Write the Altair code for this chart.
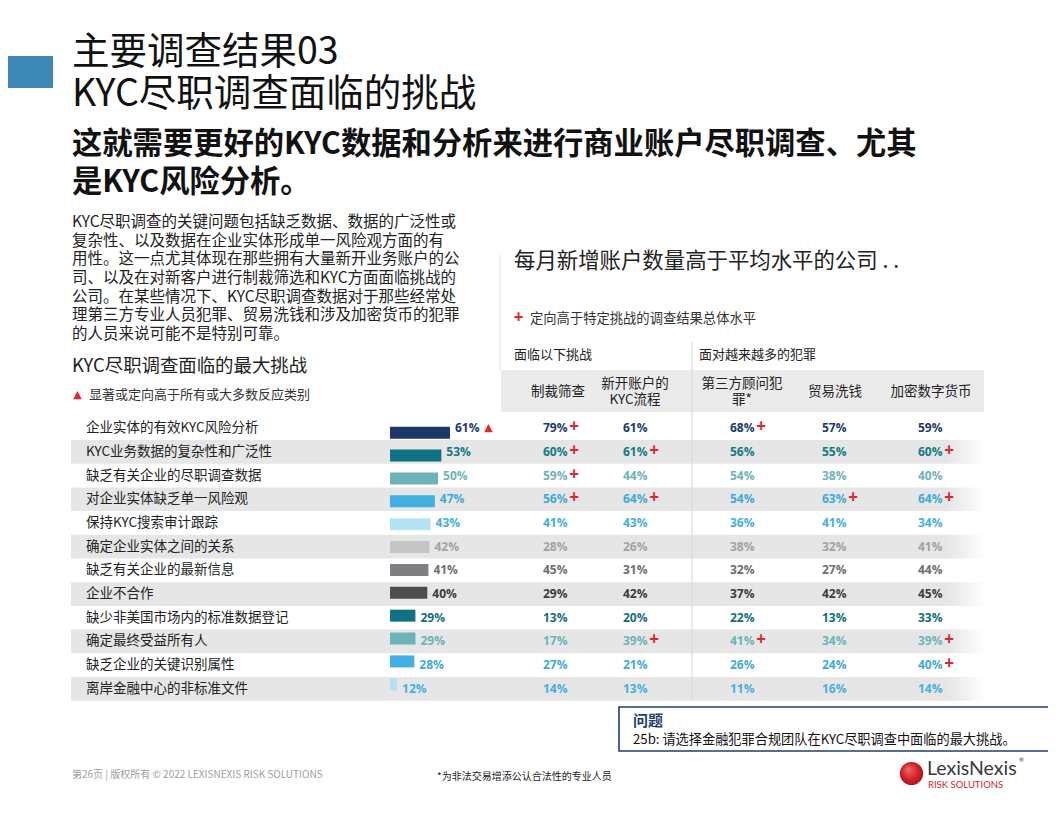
import altair as alt
import pandas as pd

CJK = "Noto Sans CJK SC"
NUM = "Open Sans"

# ---------------- data ----------------
challenges = [
    "企业实体的有效KYC风险分析",
    "KYC业务数据的复杂性和广泛性",
    "缺乏有关企业的尽职调查数据",
    "对企业实体缺乏单一风险观",
    "保持KYC搜索审计跟踪",
    "确定企业实体之间的关系",
    "缺乏有关企业的最新信息",
    "企业不合作",
    "缺少非美国市场内的标准数据登记",
    "确定最终受益所有人",
    "缺乏企业的关键识别属性",
    "离岸金融中心的非标准文件",
]
overall = [61, 53, 50, 47, 43, 42, 41, 40, 29, 29, 28, 12]
overall_flag = [1, 0, 0, 0, 0, 0, 0, 0, 0, 0, 0, 0]

col_headers = ["制裁筛查", "新开账户的\nKYC流程", "第三方顾问犯\n罪*", "贸易洗钱", "加密数字货币"]
sanctions = [79, 60, 59, 56, 41, 28, 45, 29, 13, 17, 27, 14]
new_acct = [61, 61, 44, 64, 43, 26, 31, 42, 20, 39, 21, 13]
third_party = [68, 56, 54, 54, 36, 38, 32, 37, 22, 41, 26, 11]
trade = [57, 55, 38, 63, 41, 32, 27, 42, 13, 34, 24, 16]
crypto = [59, 60, 40, 64, 34, 41, 44, 45, 33, 39, 40, 14]
sanctions_plus = [1, 1, 1, 1, 0, 0, 0, 0, 0, 0, 0, 0]
new_acct_plus = [0, 1, 0, 1, 0, 0, 0, 0, 0, 1, 0, 0]
third_party_plus = [1, 0, 0, 0, 0, 0, 0, 0, 0, 1, 0, 0]
trade_plus = [0, 0, 0, 1, 0, 0, 0, 0, 0, 0, 0, 0]
crypto_plus = [0, 1, 0, 1, 0, 0, 0, 0, 0, 1, 1, 0]

# ---------------- styles / layout ----------------
BAR_COLORS = ["#1b3668", "#0e7283", "#6cb3b9", "#40b0e3", "#b5e1f5", "#c5c5c5",
              "#7d7f84", "#4d4d4f", "#0e7283", "#6cb3b9", "#40b0e3", "#b5e1f5"]
TXT_COLORS = ["#1b3a6e", "#137a8a", "#6db3b8", "#3fa9dc", "#45b0e0", "#a3a3a3",
              "#6e6e6e", "#3d3d3d", "#0f6f80", "#6db3b8", "#3fa9dc", "#45b0e0"]
RED = "#e3262b"
NAVY = "#1f3f6e"
BAND = "#e6e6e6"

COL_X = [543, 623, 730, 822, 918]          # left edge of value text per column
HEAD_X = [558, 635, 742, 835, 931]         # header centres
HEAD_Y = [392, 384, 384, 392, 392]         # header first-line centres

PX = alt.Scale(domain=[8, 1048], range=[0, 1040], nice=False, zero=False)
PY = alt.Scale(domain=[8, 808], range=[0, 800], nice=False, zero=False)
RY = alt.Scale(domain=[-0.5, 11.5], range=[408.3, 692.7], nice=False, zero=False)
BX = alt.Scale(domain=[0, 100], range=[376.1, 484.1], nice=False, zero=False)

rows = list(range(len(challenges)))
row_color = alt.Color("row:O", scale=alt.Scale(domain=rows, range=TXT_COLORS), legend=None)
bar_color = alt.Color("row:O", scale=alt.Scale(domain=rows, range=BAR_COLORS), legend=None)


def txt(items, size, color, weight="normal", align="left", font=CJK, **kw):
    df = pd.DataFrame(items, columns=["x", "y", "t"])
    return alt.Chart(df).mark_text(
        align=align, baseline="middle", fontSize=size, color=color,
        fontWeight=weight, font=font, **kw
    ).encode(
        x=alt.X("x:Q", scale=PX, axis=None),
        y=alt.Y("y:Q", scale=PY, axis=None),
        text="t:N",
    )


def box(x1, y1, x2, y2, **mark):
    df = pd.DataFrame({"x": [x1], "x2": [x2], "y": [y1], "y2": [y2]})
    return alt.Chart(df).mark_rect(**mark).encode(
        x=alt.X("x:Q", scale=PX, axis=None), x2="x2:Q",
        y=alt.Y("y:Q", scale=PY, axis=None), y2="y2:Q",
    )


layers = []

# --- header block ---
layers.append(box(0, 56, 53, 88, color="#3d87b7"))
layers.append(txt([(72, 53, "主要调查结果03"), (72, 95, "KYC尽职调查面临的挑战")], 37.5, "#111111"))
layers.append(txt([(72, 145, "这就需要更好的KYC数据和分析来进行商业账户尽职调查、尤其"),
                   (72, 183, "是KYC风险分析。")], 30.3, "#111111", weight="bold"))

# --- paragraph ---
para = [
    "KYC尽职调查的关键问题包括缺乏数据、数据的广泛性或",
    "复杂性、以及数据在企业实体形成单一风险观方面的有",
    "用性。这一点尤其体现在那些拥有大量新开业务账户的公",
    "司、以及在对新客户进行制裁筛选和KYC方面面临挑战的",
    "公司。在某些情况下、KYC尽职调查数据对于那些经常处",
    "理第三方专业人员犯罪、贸易洗钱和涉及加密货币的犯罪",
    "的人员来说可能不是特别可靠。",
]
para_y = [222, 240.5, 259, 278, 296.5, 315, 334]
layers.append(txt([(72, y, t) for y, t in zip(para_y, para)], 15.5, "#222222"))
layers.append(txt([(72, 366, "KYC尽职调查面临的最大挑战")], 18.4, "#222222"))
layers.append(txt([(77.5, 395, "▲")], 11, RED, align="center", font="DejaVu Sans"))
layers.append(txt([(89, 395, "显著或定向高于所有或大多数反应类别")], 13, "#333333"))

# --- right heading ---
layers.append(box(499.5, 255, 500.5, 370, color="#e2e2e2"))
layers.append(txt([(514, 262, "每月新增账户数量高于平均水平的公司 . .")], 21.4, "#222222"))
layers.append(txt([(518.5, 318, "+")], 17, RED, weight="bold", align="center", font=NUM))
layers.append(txt([(530, 319, "定向高于特定挑战的调查结果总体水平")], 13.3, "#333333"))
layers.append(txt([(514, 355, "面临以下挑战"), (699, 355, "面对越来越多的犯罪")], 13, "#222222"))

# --- table background bands ---
layers.append(box(501, 370, 984, 412, color="#ebebeb"))
band_df = pd.DataFrame({"row": rows}).query("row % 2 == 1")
band_base = alt.Chart(band_df).transform_calculate(lo="datum.row - 0.5", hi="datum.row + 0.5")
layers.append(band_base.mark_rect(color=BAND).encode(
    x=alt.X("x:Q", scale=PX, axis=None), x2=alt.X2("x2:Q"),
    y=alt.Y("lo:Q", scale=RY, axis=None), y2="hi:Q",
).transform_calculate(x="71", x2="948"))
layers.append(band_base.mark_rect(
    color=alt.LinearGradient(gradient="linear", x1=0, x2=1, y1=0, y2=0,
                             stops=[alt.GradientStop(color=BAND, offset=0),
                                    alt.GradientStop(color="#ffffff", offset=1)])
).encode(
    x=alt.X("x:Q", scale=PX, axis=None), x2=alt.X2("x2:Q"),
    y=alt.Y("lo:Q", scale=RY, axis=None), y2="hi:Q",
).transform_calculate(x="948", x2="986"))

# separator
layers.append(box(691.5, 342, 692.5, 700.7, color="#d6d6d6"))

# --- column headers ---
head_df = pd.DataFrame({"x": HEAD_X, "y": HEAD_Y, "t": col_headers})
layers.append(alt.Chart(head_df).mark_text(
    align="center", baseline="middle", fontSize=13.5, color="#222222", font=CJK,
    lineBreak="\n", lineHeight=16,
).encode(
    x=alt.X("x:Q", scale=PX, axis=None),
    y=alt.Y("y:Q", scale=PY, axis=None),
    text="t:N",
))

# --- left bar chart ---
left_df = pd.DataFrame({"row": rows, "label": challenges, "value": overall, "flag": overall_flag})
left_df["vtext"] = left_df["value"].astype(str) + "%"
left_base = alt.Chart(left_df)
layers.append(left_base.mark_text(align="left", baseline="middle", fontSize=13.5,
                                  color="#222222", font=CJK).encode(
    x=alt.value(86 - 8),
    y=alt.Y("row:Q", scale=RY, axis=None),
    text="label:N",
))
layers.append(left_base.mark_bar(height=12).encode(
    x=alt.X("value:Q", scale=BX, axis=None),
    x2=alt.datum(5.5),
    y=alt.Y("row:Q", scale=RY, axis=None),
    color=bar_color,
))
layers.append(left_base.mark_text(align="left", baseline="middle", dx=5, fontSize=12,
                                  fontWeight="bold", font=NUM).encode(
    x=alt.X("value:Q", scale=BX, axis=None),
    y=alt.Y("row:Q", scale=RY, axis=None),
    text="vtext:N",
    color=row_color,
))
layers.append(left_base.transform_filter("datum.flag == 1").mark_text(
    align="center", baseline="middle", dx=38.5, fontSize=11, color=RED, font="DejaVu Sans"
).encode(
    x=alt.X("value:Q", scale=BX, axis=None),
    y=alt.Y("row:Q", scale=RY, axis=None),
    text=alt.value("▲"),
))

# --- right table values ---
series = [sanctions, new_acct, third_party, trade, crypto]
pluses = [sanctions_plus, new_acct_plus, third_party_plus, trade_plus, crypto_plus]
recs = []
for j, (vals, pl) in enumerate(zip(series, pluses)):
    for i, (v, p) in enumerate(zip(vals, pl)):
        recs.append({"row": i, "col": j, "x": COL_X[j], "vtext": f"{v}%", "plus": p})
tab_df = pd.DataFrame(recs)
tab_base = alt.Chart(tab_df)
layers.append(tab_base.mark_text(align="left", baseline="middle", fontSize=12,
                                 fontWeight="bold", font=NUM).encode(
    x=alt.X("x:Q", scale=PX, axis=None),
    y=alt.Y("row:Q", scale=RY, axis=None),
    text="vtext:N",
    color=row_color,
))
layers.append(tab_base.transform_filter("datum.plus == 1").mark_text(
    align="center", baseline="middle", dx=31, dy=-1, fontSize=17, fontWeight="bold",
    color=RED, font=NUM
).encode(
    x=alt.X("x:Q", scale=PX, axis=None),
    y=alt.Y("row:Q", scale=RY, axis=None),
    text=alt.value("+"),
))

# --- question box ---
layers.append(box(619, 707, 1070, 751, fill="#ffffff", stroke=NAVY, strokeWidth=1.6))
layers.append(txt([(633, 721, "问题")], 15, NAVY, weight="bold"))
layers.append(txt([(633, 740, "25b: 请选择金融犯罪合规团队在KYC尽职调查中面临的最大挑战。")], 13.2, "#111111"))

# --- footer ---
layers.append(txt([(72, 775, "第26页 |  版权所有 © 2022 LEXISNEXIS RISK SOLUTIONS")], 10, "#a0a0a0"))
layers.append(txt([(437, 777, "*为非法交易增添公认合法性的专业人员")], 10, "#222222"))

# --- logo ---
logo_df = pd.DataFrame({"x": [911.5], "y": [773.5]})
layers.append(alt.Chart(logo_df).mark_point(
    shape="circle", filled=True, size=540, opacity=1,
    color=alt.RadialGradient(gradient="radial", x1=0.35, y1=0.3, x2=0.5, y2=0.5, r1=0, r2=0.6,
                             stops=[alt.GradientStop(color="#f26a63", offset=0),
                                    alt.GradientStop(color="#d0202a", offset=0.6),
                                    alt.GradientStop(color="#9e1119", offset=1)])
).encode(x=alt.X("x:Q", scale=PX, axis=None), y=alt.Y("y:Q", scale=PY, axis=None)))
layers.append(txt([(927, 769, "LexisNexis")], 19.5, "#3a3a3a", font="Lato"))
layers.append(txt([(1019, 760, "®")], 6, "#3a3a3a", font="Lato"))
layers.append(txt([(928, 785, "RISK SOLUTIONS")], 9.5, "#d0232a", font="Lato"))

chart = alt.layer(*layers).resolve_scale(
    x="independent", y="independent", color="independent"
).properties(
    width=1040, height=800, padding=0, autosize=alt.AutoSizeParams(type="none"),
    background="#ffffff",
).configure_view(stroke=None)

chart.save("out.html", embed_options={"renderer": "svg", "actions": False})
